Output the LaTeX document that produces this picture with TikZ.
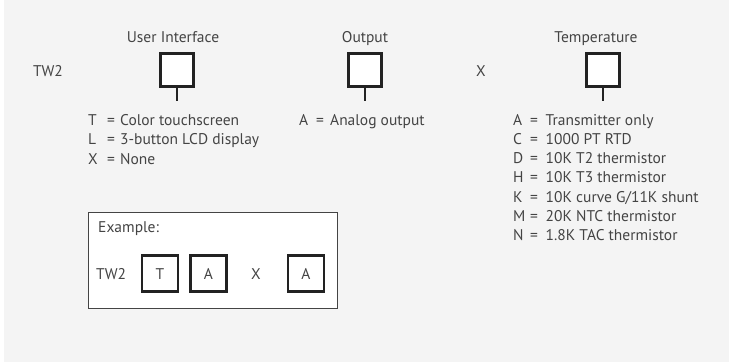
\documentclass[tikz,border=0pt]{standalone}
\usepackage{fontspec}
\setmainfont{PT Sans}
\definecolor{bg}{HTML}{F4F4F4}
\definecolor{txt}{HTML}{444444}
\definecolor{boxline}{HTML}{222222}
\newcommand{\fs}{\fontsize{15.5}{19.5}\selectfont}
\begin{document}
\begin{tikzpicture}[x=1pt,y=-1pt,
  lbl/.style={font=\fs, text=txt, inner sep=0pt},
  bl/.style={lbl, anchor=base},
  blw/.style={lbl, anchor=base west},
  slot/.style={draw=boxline, line width=2.4pt, fill=white, minimum width=33pt, minimum height=33pt, inner sep=0pt},
  eslot/.style={slot, line width=2.7pt, minimum width=36pt, minimum height=36pt},
  stem/.style={draw=boxline, line width=2pt}]
\useasboundingbox (0,0) rectangle (729,362);
\fill[white] (0,0) rectangle (729,362);
\fill[bg] (4,0) rectangle (729,362);
% top row
\node[bl] (tw) at (48,76) {TW2};
\node[bl] (uih) at (173,42.5) {User Interface};
\node[slot] (ui) at (177,70) {};
\coordinate (uis) at (177,101);
\draw[stem] (ui.south) -- (uis);
\node[bl] (outh) at (365,42.5) {Output};
\node[slot] (out) at (365,70) {};
\coordinate (outs) at (365,101);
\draw[stem] (out.south) -- (outs);
\node[bl] (x) at (481,76) {X};
\node[bl] (temph) at (596,42.5) {Temperature};
\node[slot] (temp) at (603,70) {};
\coordinate (temps) at (603,101);
\draw[stem] (temp.south) -- (temps);
% lists
\foreach \l/\t [count=\i] in {T/Color touchscreen, L/3-button LCD display, X/None}
  \node[blw] (ui\i) at (88,{125+19.5*(\i-1)}) {\makebox[19pt][l]{\l}\makebox[13pt][l]{=}\t};
\node[blw] (outl) at (299,125) {\makebox[17pt][l]{A}\makebox[14pt][l]{=}Analog output};
\foreach \l/\t [count=\i] in {A/Transmitter only, C/1000 PT RTD, D/10K T2 thermistor, H/10K T3 thermistor, K/10K curve G\slash 11K shunt, M/20K NTC thermistor, N/1.8K TAC thermistor}
  \node[blw] (t\i) at (513,{125+19.3*(\i-1)}) {\makebox[17pt][l]{\l}\makebox[15.5pt][l]{=}\t};
% example
\node[draw=txt, line width=0.8pt, fill=white, minimum width=249pt, minimum height=96pt, anchor=north west, inner sep=0pt] (ex) at (88,212) {};
\node[blw] (exl) at (98,232.5) {Example:};
\node[blw] (etw) at (96,279) {TW2};
\node[eslot] (e1) at (160,273.5) {};
\node[bl] at (e1.center |- 0,279) {T};
\node[eslot] (e2) at (208.5,273.5) {};
\node[bl] at (e2.center |- 0,279) {A};
\node[bl] (ex2) at (256,279) {X};
\node[eslot] (e3) at (306,273.5) {};
\node[bl] at (e3.center |- 0,279) {A};
\end{tikzpicture}
\end{document}
